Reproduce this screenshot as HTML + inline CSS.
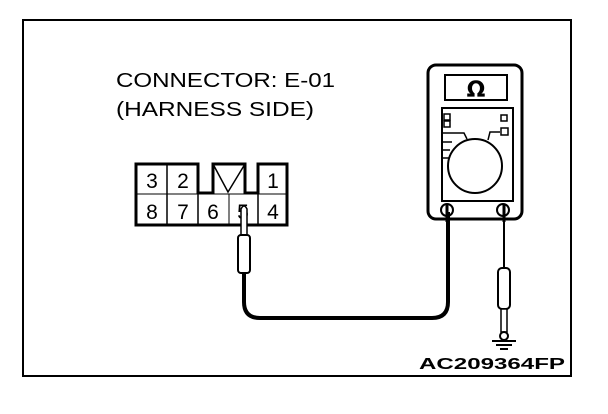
<!DOCTYPE html>
<html><head><style>html,body{margin:0;padding:0;background:#fff}svg{display:block}</style></head>
<body>
<svg width="608" height="414" viewBox="0 0 608 414" xmlns="http://www.w3.org/2000/svg">
<rect x="0" y="0" width="608" height="414" fill="#fff"/>
<rect x="23" y="20" width="548" height="356" fill="none" stroke="#000" stroke-width="2"/>
<g font-family="Liberation Sans, Arial, sans-serif" fill="#000">
<text x="116" y="87" font-size="20.5" textLength="219" lengthAdjust="spacingAndGlyphs">CONNECTOR: E-01</text>
<text x="116" y="116" font-size="20.5" textLength="198" lengthAdjust="spacingAndGlyphs">(HARNESS SIDE)</text>
<text x="419" y="369" font-size="16" font-weight="bold" textLength="146" lengthAdjust="spacingAndGlyphs">AC209364FP</text>
</g>
<g fill="none" stroke="#000">
<path d="M136 164 H198 V193 H213 V164 H245 V193 H258 V164 H287 V225 H136 Z" stroke-width="3"/>
<line x1="136" y1="194" x2="287" y2="194" stroke-width="1"/>
<line x1="167" y1="164" x2="167" y2="225" stroke-width="1.5"/>
<line x1="198" y1="193" x2="198" y2="225" stroke-width="1.5"/>
<line x1="229" y1="194" x2="229" y2="225" stroke-width="1"/>
<line x1="258" y1="164" x2="258" y2="225" stroke-width="1.5"/>
<path d="M213 164 L228 192 L245 164" stroke-width="1.5"/>
</g>
<g font-family="Liberation Sans, Arial, sans-serif" font-size="21" text-anchor="middle">
<text x="152" y="188">3</text><text x="183" y="188">2</text><text x="273" y="188">1</text>
<text x="152" y="219">8</text><text x="183" y="219">7</text><text x="213" y="219">6</text><text x="243" y="219">5</text><text x="273" y="219">4</text>
</g>
<g stroke="#000" fill="#fff">
<path d="M241 236 V209 Q244 203 247 209 V236" stroke-width="1.5"/>
<rect x="238" y="235" width="12" height="38" rx="3" stroke-width="2"/>
</g>
<path d="M244 274 V302 Q244 318 260 318 H432 Q448 318 448 302 V212" fill="none" stroke="#000" stroke-width="4"/>
<g fill="none" stroke="#000">
<rect x="428" y="65" width="94" height="154" rx="8" stroke-width="3"/>
<rect x="445" y="75" width="62" height="25" stroke-width="2"/>
<rect x="442" y="108" width="71" height="93" stroke-width="2"/>
<circle cx="475" cy="166" r="27" stroke-width="2"/>
<rect x="444" y="114" width="6" height="6" stroke-width="1.5"/>
<rect x="444" y="121" width="6" height="6" stroke-width="1.5"/>
<rect x="501" y="115" width="6" height="6" stroke-width="1.5"/>
<rect x="501" y="128" width="7" height="7" stroke-width="1.5"/>
<path d="M442 133 H464 L467 139" stroke-width="1.5"/>
<path d="M442 142 H452 M442 150 H450 M442 158 H449" stroke-width="1.5"/>
<path d="M488 140 L490 132 H500" stroke-width="1.5"/>
<circle cx="447" cy="210" r="6" stroke-width="2"/>
<circle cx="503" cy="210" r="6" stroke-width="2"/>
</g>
<text x="476" y="97" font-family="DejaVu Sans, sans-serif" font-size="22" font-weight="bold" text-anchor="middle">Ω</text>
<line x1="504" y1="210" x2="504" y2="268" stroke="#000" stroke-width="2"/>
<line x1="447" y1="205" x2="447" y2="222" stroke="#000" stroke-width="3"/>
<line x1="504" y1="205" x2="504" y2="222" stroke="#000" stroke-width="3"/>
<g stroke="#000" fill="#fff">
<rect x="498" y="268" width="12" height="41" rx="4" stroke-width="2"/>
<rect x="501" y="309" width="6" height="23" stroke-width="1.5"/>
<circle cx="504" cy="336" r="4" stroke-width="2"/>
</g>
<g stroke="#000" stroke-width="2">
<line x1="492" y1="341" x2="516" y2="341"/>
<line x1="496" y1="345" x2="512" y2="345"/>
<line x1="500" y1="349" x2="508" y2="349"/>
</g>
</svg>
</body></html>
